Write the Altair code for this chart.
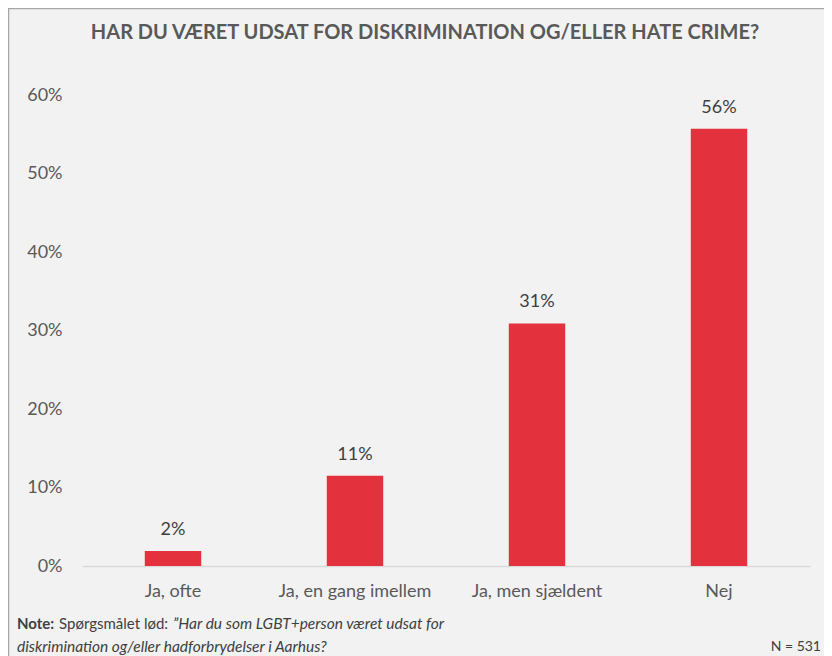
import altair as alt
import pandas as pd

categories = ["Ja, ofte", "Ja, en gang imellem", "Ja, men sjældent", "Nej"]
values = [0.019, 0.115, 0.309, 0.557]
labels = ["2%", "11%", "31%", "56%"]
title_text = "HAR DU VÆRET UDSAT FOR DISKRIMINATION OG/ELLER HATE CRIME?"
note_bold = "Note:"
note_plain = "Spørgsmålet lød:"
note_italic_1 = "”Har du som LGBT+person været udsat for"
note_italic_2 = "diskrimination og/eller hadforbrydelser i Aarhus?"
n_text = "N = 531"

FONT = "Lato"
df = pd.DataFrame({"cat": categories, "val": values, "lab": labels})

W, H = 728, 471

x_enc = alt.X(
    "cat:N", sort=categories, title=None,
    scale=alt.Scale(paddingInner=0.69, paddingOuter=0.345),
    axis=alt.Axis(labelAngle=0, ticks=False, domainColor="#d9d9d9", domainWidth=1.5,
                  labelFont=FONT, labelFontSize=18, labelColor="#595959", labelPadding=16),
)
y_enc = alt.Y(
    "val:Q", title=None,
    scale=alt.Scale(domain=[0, 0.6], nice=False),
    axis=alt.Axis(values=[0, 0.1, 0.2, 0.3, 0.4, 0.5, 0.6], format=".0%", domain=False,
                  ticks=False, grid=False, labelFont=FONT, labelFontSize=18,
                  labelColor="#595959", labelPadding=20),
)

bars = alt.Chart(df).mark_bar(color="#e3313e").encode(x=x_enc, y=y_enc)
text = alt.Chart(df).mark_text(baseline="bottom", dy=-12, font=FONT, fontSize=18,
                               color="#404040").encode(x=alt.X("cat:N", sort=categories),
                                                       y="val:Q", text="lab:N")

def txt(s, xv, yv, size=15, color="#404040", align="left", **kw):
    return alt.Chart(pd.DataFrame({"t": [s]})).mark_text(
        align=align, baseline="middle", font=FONT, fontSize=size, color=color, **kw
    ).encode(x=alt.value(xv), y=alt.value(yv), text="t:N")

border_left = alt.Chart(pd.DataFrame({"a": [0]})).mark_rule(color="#a6a6a6", strokeWidth=1.5).encode(
    x=alt.value(-73.5), y=alt.value(-87), y2=alt.value(H + 200))
border_top = alt.Chart(pd.DataFrame({"a": [0]})).mark_rule(color="#a6a6a6", strokeWidth=1.5).encode(
    x=alt.value(-74), x2=alt.value(W + 200), y=alt.value(-86.5))

chart = alt.layer(
    bars, text,
    txt(title_text, 343, -62, size=20, color="#595959", align="center", fontWeight="bold"),
    txt(note_bold, -65, 529, fontWeight="bold"),
    txt(note_plain, -23, 529),
    txt(note_italic_1, 91, 529, size=15.5, fontStyle="italic"),
    txt(note_italic_2, -65, 552, size=15.5, fontStyle="italic"),
    txt(n_text, 739, 552, size=14, align="right"),
    border_left, border_top,
).properties(
    width=W, height=H,
    background="#f2f2f2",
    padding={"left": 74, "top": 87, "right": 14, "bottom": 100},
    autosize=alt.AutoSizeParams(type="none"),
).configure_view(stroke=None)

chart.save("out.html", embed_options={"renderer": "svg", "actions": False})
